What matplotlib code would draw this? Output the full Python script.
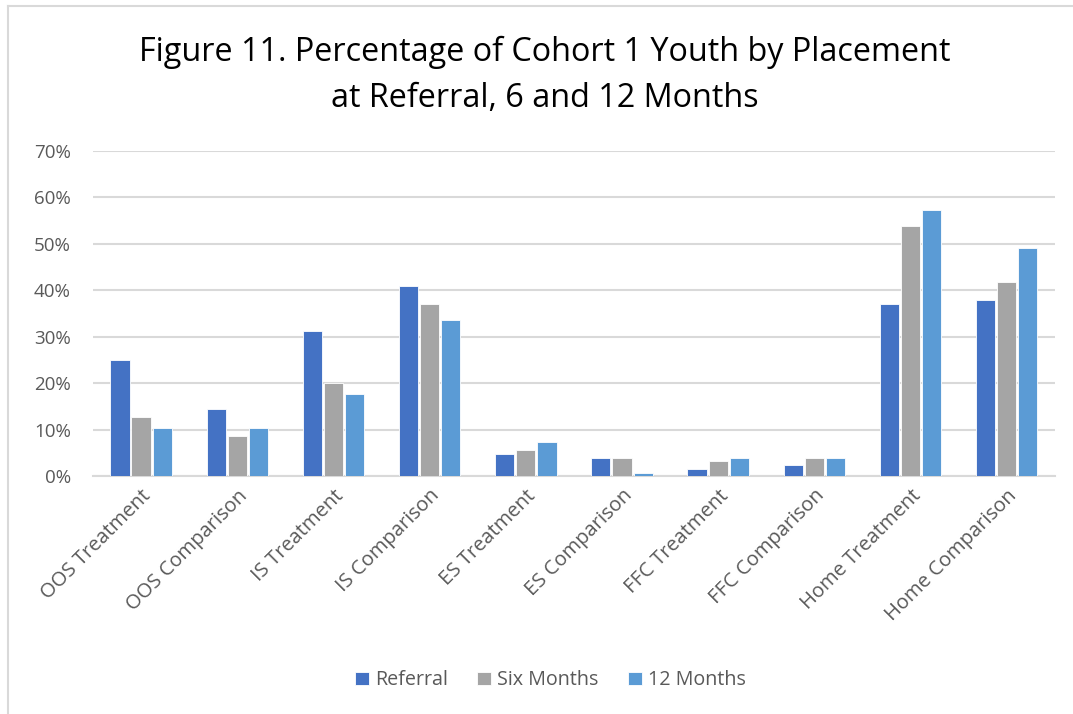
import numpy as np
import matplotlib.pyplot as plt
from matplotlib.lines import Line2D

plt.rcParams['font.family'] = ['Open Sans', 'DejaVu Sans']

# Data (percent)
categories = ["OOS Treatment", "OOS Comparison", "IS Treatment", "IS Comparison",
              "ES Treatment", "ES Comparison", "FFC Treatment", "FFC Comparison",
              "Home Treatment", "Home Comparison"]
referral = [24.9, 14.5, 31.3, 40.9, 4.8, 3.9, 1.5, 2.3, 37.0, 37.9]
six_months = [12.8, 8.7, 20.0, 37.0, 5.7, 3.9, 3.2, 3.9, 53.9, 41.8]
twelve_months = [10.3, 10.3, 17.7, 33.7, 7.3, 0.7, 3.9, 3.9, 57.2, 49.2]
series_names = ["Referral", "Six Months", "12 Months"]
colors = ["#4472C4", "#A5A5A5", "#5B9BD5"]

fig = plt.figure(figsize=(10.73, 7.14), dpi=100)
ax = fig.add_axes([0.0867, 0.3333, 0.8963, 0.4552])

x = np.arange(len(categories))
w = 0.2
step = 0.22
for i, (vals, name, c) in enumerate(zip([referral, six_months, twelve_months], series_names, colors)):
    ax.bar(x + (i - 1) * step, vals, width=w, color=c, label=name,
           edgecolor="white", linewidth=0.6, zorder=3)

ax.set_xlim(-0.5, len(categories) - 0.5)
ax.set_ylim(0, 70)
ax.set_yticks(range(0, 71, 10))
ax.set_yticklabels([f"{v}%" for v in range(0, 71, 10)], color="#595959", fontsize=13.5)
ax.yaxis.grid(True, color="#D9D9D9", linewidth=1.5, zorder=0)
ax.tick_params(axis="both", length=0)
ax.tick_params(axis="y", pad=16)
ax.set_xticks(x)
ax.set_xticklabels(categories, rotation=45, ha="right", rotation_mode="anchor",
                   color="#595959", fontsize=14.5)
ax.tick_params(axis="x", pad=7)
for s in ["top", "right", "left"]:
    ax.spines[s].set_visible(False)
ax.spines["bottom"].set_color("#D9D9D9")
ax.spines["bottom"].set_linewidth(1.5)

fig.text(0.508, 0.894, "Figure 11. Percentage of Cohort 1 Youth by Placement\nat Referral, 6 and 12 Months",
         ha="center", va="center", fontsize=23.3, color="black", linespacing=1.52)

fig.legend(loc="center", bbox_to_anchor=(0.513, 0.047), ncol=3, frameon=False,
           fontsize=14.2, handlelength=0.7, handleheight=0.7, handletextpad=0.3,
           columnspacing=1.5, labelcolor="#595959")

# light chart-area border visible on the top and left edges of the source
fig.add_artist(Line2D([0.0075, 0.0075], [0, 0.992], transform=fig.transFigure,
                      color="#D9D9D9", linewidth=1.5))
fig.add_artist(Line2D([0.0075, 1.0], [0.992, 0.992], transform=fig.transFigure,
                      color="#D9D9D9", linewidth=1.5))

fig.savefig("out.png", dpi=100)
